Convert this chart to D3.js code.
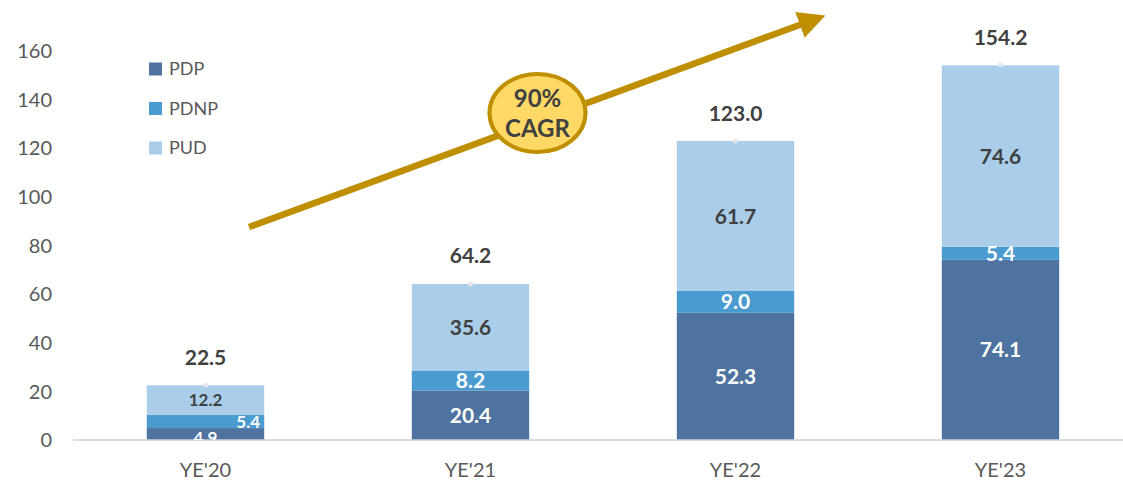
<!DOCTYPE html>
<html><head><meta charset="utf-8">
<script src="https://cdn.jsdelivr.net/npm/d3@7"></script>
<style>body{margin:0;background:#fff;} svg{display:block;font-family:Lato,"Open Sans",sans-serif;}</style>
</head><body><svg id="c" width="1123" height="480"></svg>
<script>
const categories = ["YE'20","YE'21","YE'22","YE'23"];
const seriesNames = ["PDP","PDNP","PUD"];
const pdp  = [4.9, 20.4, 52.3, 74.1];
const pdnp = [5.4, 8.2, 9.0, 5.4];
const pud  = [12.2, 35.6, 61.7, 74.6];
const totals = [22.5, 64.2, 123.0, 154.2];
const yTicks = [0,20,40,60,80,100,120,140,160];
const colors = ["#4E73A0","#4A9BD0","#AACEE9"];
const labelColors = ["#ffffff","#ffffff","#404040"];
const cagrText = ["90%","CAGR"];

const svg = d3.select("#c");
const x = d3.scaleBand().domain(categories).range([73,1133]).paddingInner(0.557).paddingOuter(0.2785);
const y = d3.scaleLinear().domain([0,160]).range([440,51]);

// y tick labels
svg.append("g").selectAll("text").data(yTicks).join("text")
  .attr("x",52).attr("y",d=>y(d)).attr("dy","0.36em").attr("text-anchor","end")
  .attr("font-size",20).attr("fill","#595959").text(d=>d);

const data = categories.map((c,i)=>({cat:c, PDP:pdp[i], PDNP:pdnp[i], PUD:pud[i], total:totals[i]}));
const stack = d3.stack().keys(seriesNames)(data);

const g = svg.append("g");
stack.forEach((s,si)=>{
  g.selectAll(null).data(s).join("rect")
    .attr("x",d=>x(d.data.cat)).attr("width",x.bandwidth())
    .attr("y",d=>y(d[1])).attr("height",d=>y(d[0])-y(d[1]))
    .attr("fill",colors[si]);
});

// axis line
svg.append("line").attr("x1",73).attr("x2",1123).attr("y1",y(0)).attr("y2",y(0))
  .attr("stroke","#d0d0d0").attr("stroke-width",1.5);

// category labels
svg.append("g").selectAll("text").data(categories).join("text")
  .attr("x",d=>x(d)+x.bandwidth()/2).attr("y",470).attr("dy","0.36em").attr("text-anchor","middle")
  .attr("font-size",20).attr("fill","#595959").text(d=>d);

// segment labels
svg.append("clipPath").attr("id","pc").append("rect").attr("x",0).attr("y",0).attr("width",1123).attr("height",y(0));
const lg = svg.append("g").attr("clip-path","url(#pc)");
stack.forEach((s,si)=>{
  lg.selectAll(null).data(s).join("text")
    .attr("x",(d,i)=> (i===0 && si===1) ? x(d.data.cat)+x.bandwidth()-16 : x(d.data.cat)+x.bandwidth()/2)
    .attr("y",(d,i)=> (i===0 && si===0) ? y((d[0]+d[1])/2)+4 : y((d[0]+d[1])/2))
    .attr("dy","0.36em").attr("text-anchor","middle")
    .attr("font-weight","bold").attr("font-size",(d,i)=> i===0 ? 17 : 21)
    .attr("fill",labelColors[si]).text(d=>d3.format(".1f")(d[1]-d[0]));
});

// totals
svg.append("g").selectAll("circle").data(data).join("circle")
  .attr("cx",d=>x(d.cat)+x.bandwidth()/2).attr("cy",d=>y(d.total)).attr("r",2.5).attr("fill","#e3e6ea");
svg.append("g").selectAll("text").data(data).join("text")
  .attr("x",d=>x(d.cat)+x.bandwidth()/2).attr("y",d=>y(d.total)-28).attr("dy","0.36em").attr("text-anchor","middle")
  .attr("font-weight","bold").attr("font-size",21).attr("fill","#404040").text(d=>d3.format(".1f")(d.total));

// legend
const leg = svg.append("g").selectAll("g").data(seriesNames).join("g")
  .attr("transform",(d,i)=>`translate(149,${69+i*39.5})`);
leg.append("rect").attr("x",0).attr("y",-6.5).attr("width",13).attr("height",13).attr("fill",(d,i)=>colors[i]);
leg.append("text").attr("x",20).attr("y",0).attr("dy","0.36em").attr("font-size",18).attr("fill","#595959").text(d=>d);

// CAGR arrow
const gold = "#BF8F00";
svg.append("defs").append("marker").attr("id","ah").attr("viewBox","0 0 10 10")
  .attr("refX",2).attr("refY",5).attr("markerWidth",4.2).attr("markerHeight",4.2).attr("orient","auto")
  .attr("markerUnits","strokeWidth")
  .append("path").attr("d","M0,0 L10,5 L0,10 Z").attr("fill",gold);
svg.append("line").attr("x1",249).attr("y1",227).attr("x2",805).attr("y2",23)
  .attr("stroke",gold).attr("stroke-width",6.5).attr("marker-end","url(#ah)");
svg.append("ellipse").attr("cx",537.5).attr("cy",113).attr("rx",48).attr("ry",39)
  .attr("fill","#FFD966").attr("stroke",gold).attr("stroke-width",4);
svg.append("g").selectAll("text").data(cagrText).join("text")
  .attr("x",537.5).attr("y",(d,i)=>98+i*30).attr("dy","0.36em").attr("text-anchor","middle")
  .attr("font-weight","bold").attr("font-size",24).attr("fill","#404040").text(d=>d);
</script></body></html>
